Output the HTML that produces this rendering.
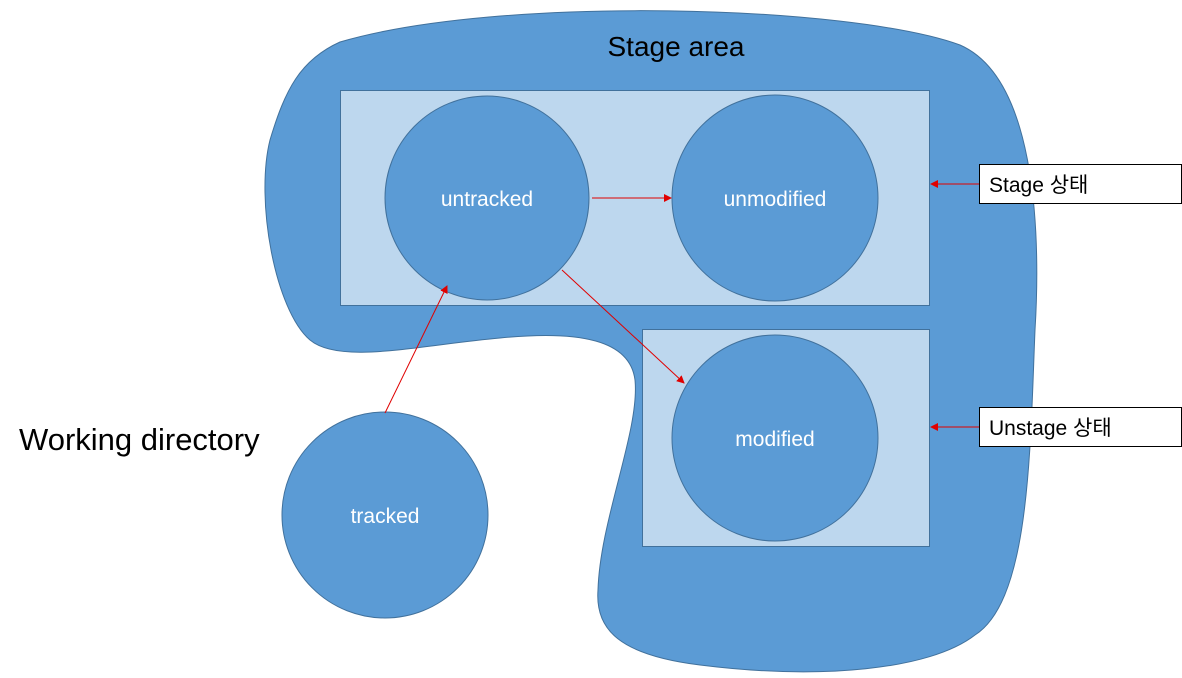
<!DOCTYPE html>
<html><head><meta charset="utf-8"><style>
html,body{margin:0;padding:0;background:#fff;}
svg{display:block;}
text{font-family:"Liberation Sans","Noto Sans CJK KR",sans-serif;}
</style></head><body>
<svg width="1182" height="678" viewBox="0 0 1182 678" xmlns="http://www.w3.org/2000/svg">
<defs>
<marker id="ar" markerWidth="8" markerHeight="8" refX="7" refY="4" orient="auto" markerUnits="userSpaceOnUse"><path d="M0,0 L8,4 L0,8 Z" fill="#e00000"/></marker>
</defs>
<path d="M 340 42 C 500 -5, 850 5, 960 45 C 1040 80, 1040 250, 1035 330 C 1030 450, 1030 600, 975 635 C 930 670, 820 680, 700 665 C 620 655, 595 630, 598 590 C 600 520, 640 430, 635 380 C 630 340, 580 330, 500 338 C 420 345, 340 365, 310 340 C 275 310, 255 200, 270 140 C 285 90, 300 60, 340 42 Z" fill="#5b9bd5" stroke="#41719c" stroke-width="1"/>
<rect x="340.5" y="90.5" width="589" height="215" fill="#bdd7ee" stroke="#41719c"/>
<rect x="642.5" y="329.5" width="287" height="217" fill="#bdd7ee" stroke="#41719c"/>
<circle cx="487" cy="198" r="102" fill="#5b9bd5" stroke="#41719c"/>
<circle cx="775" cy="198" r="103" fill="#5b9bd5" stroke="#41719c"/>
<circle cx="775" cy="438" r="103" fill="#5b9bd5" stroke="#41719c"/>
<circle cx="385" cy="515" r="103" fill="#5b9bd5" stroke="#41719c"/>
<text x="676" y="56" font-size="28" text-anchor="middle" fill="#000">Stage area</text>
<text x="19" y="450" font-size="31" fill="#000">Working directory</text>
<g fill="#fff" font-size="21" text-anchor="middle">
<text x="487" y="206">untracked</text>
<text x="775" y="206">unmodified</text>
<text x="775" y="446">modified</text>
<text x="385" y="523">tracked</text>
</g>
<g stroke="#e00000" stroke-width="1" fill="none">
<line x1="592" y1="198" x2="671" y2="198" marker-end="url(#ar)"/>
<line x1="385" y1="413" x2="447" y2="286" marker-end="url(#ar)"/>
<line x1="562" y1="270" x2="684" y2="383" marker-end="url(#ar)"/>
<line x1="979" y1="184" x2="931" y2="184" marker-end="url(#ar)"/>
<line x1="979" y1="427" x2="931" y2="427" marker-end="url(#ar)"/>
</g>
<rect x="979.5" y="164.5" width="202" height="39" fill="#fff" stroke="#000"/>
<rect x="979.5" y="407.5" width="202" height="39" fill="#fff" stroke="#000"/>
<text x="989" y="192" font-size="21" fill="#000">Stage 상태</text>
<text x="989" y="435" font-size="21" fill="#000">Unstage 상태</text>
</svg>
</body></html>
